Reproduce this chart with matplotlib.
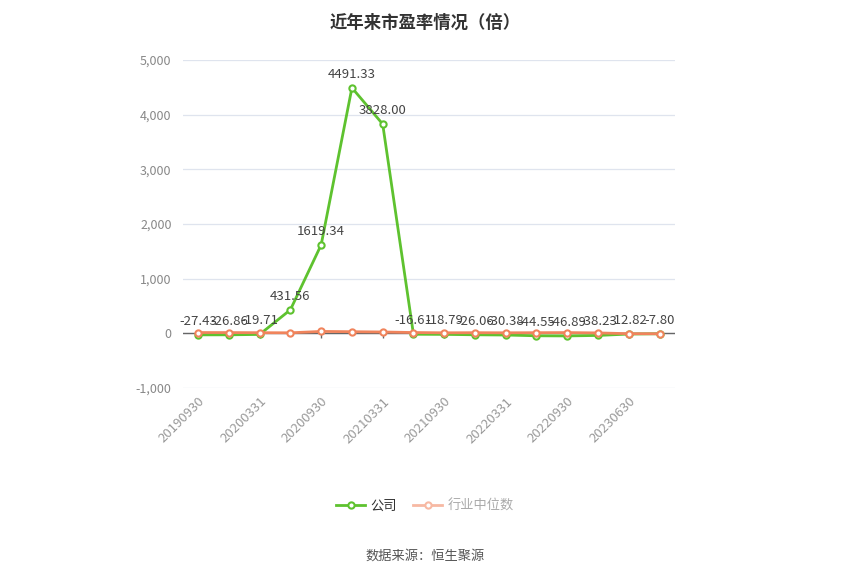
import matplotlib
matplotlib.use("Agg")
import matplotlib.pyplot as plt
from matplotlib.ticker import FuncFormatter

plt.rcParams['font.family'] = ['Noto Sans CJK SC', 'DejaVu Sans']

dates = ["20190930", "20191231", "20200331", "20200630", "20200930", "20201231",
         "20210331", "20210630", "20210930", "20211231", "20220331", "20220630",
         "20220930", "20230331", "20230630", "20230930"]
tick_labels = ["20190930", "20200331", "20200930", "20210331", "20210930",
               "20220331", "20220930", "20230630"]
company = [-27.43, -26.86, -19.71, 431.56, 1619.34, 4491.33, 3828.00, -16.61,
           -18.79, -26.06, -30.38, -44.55, -46.89, -38.23, -12.82, -7.80]
industry = [15, 14, 12, 10, 35, 30, 25, 15, 10, 12, 10, 12, 14, 8, -6, -8]

green = "#5ec22f"
orange = "#f0845c"

fig = plt.figure(figsize=(8.5, 5.74), dpi=100)
ax = fig.add_axes([0.215, 0.324, 0.579, 0.5715])

x = list(range(len(dates)))
ax.plot(x, company, color=green, lw=2, marker='o', ms=4.5, mfc='white',
        mec=green, mew=1.5, zorder=3, label="公司")
ax.plot(x, industry, color=orange, lw=2, marker='o', ms=4.5, mfc='white',
        mec=orange, mew=1.5, zorder=4, label="行业中位数")

for xi, v in zip(x, company):
    ax.annotate(f"{v:.2f}", (xi, v), xytext=(0, 5), textcoords='offset points',
                ha='center', va='bottom', fontsize=9.5, color='#444444', zorder=5)

ax.set_xlim(-0.5, len(dates) - 0.5)
ax.set_ylim(-1000, 5000)
ax.set_yticks(range(-1000, 5001, 1000))
ax.yaxis.set_major_formatter(FuncFormatter(lambda v, p: f"{int(v):,}"))
ax.tick_params(axis='y', length=0, labelsize=9, colors='#888888', pad=8)

tick_pos = [dates.index(t) for t in tick_labels]
ax.set_xticks(tick_pos)
ax.set_xticklabels(tick_labels, rotation=45, ha='right', rotation_mode='anchor',
                   fontsize=9.5, color='#999999')
ax.tick_params(axis='x', length=0, pad=5)

ax.grid(axis='y', color='#dfe4ee', lw=0.9)
ax.set_axisbelow(True)
for s in ['top', 'right', 'left', 'bottom']:
    ax.spines[s].set_visible(False)

# zero axis line with small ticks at labelled categories
ax.axhline(0, color='#666666', lw=1, zorder=2)
ax.vlines(tick_pos, -90, 0, color='#666666', lw=1, zorder=2)

fig.text(0.5, 0.976, "近年来市盈率情况（倍）", ha='center', va='top', fontsize=12.5,
         fontweight='bold', color='#333333')

leg = fig.legend(loc='center', bbox_to_anchor=(0.5, 0.118), ncol=2, frameon=False,
                 fontsize=9.5, handlelength=2.2, columnspacing=1.2, handletextpad=0.4)
texts = leg.get_texts()
texts[0].set_color('#333333')
texts[1].set_color('#aaaaaa')
lines = leg.get_lines()
lines[1].set_color('#f7b9a3')
lines[1].set_markeredgecolor('#f7b9a3')

fig.text(0.5, 0.031, "数据来源：恒生聚源", ha='center', va='center', fontsize=9.5,
         color='#555555')

fig.savefig("out.png", dpi=100)
